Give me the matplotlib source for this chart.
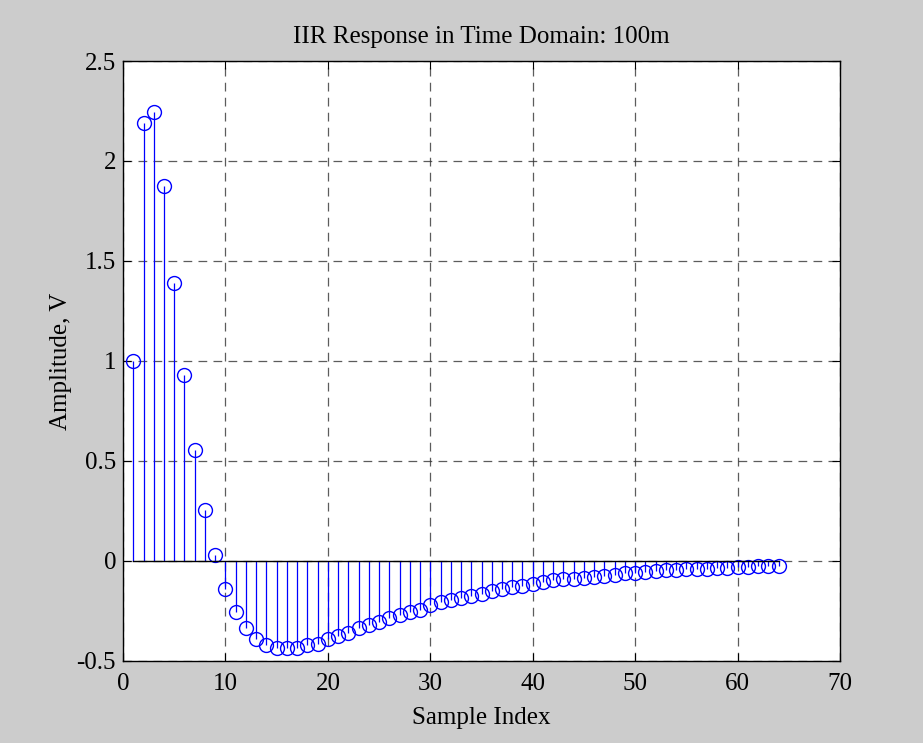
import numpy as np
import matplotlib
matplotlib.use('Agg')
import matplotlib.pyplot as plt

# Impulse response samples, index 1..64
sample_index = np.arange(1, 65)
amplitude = [
    1.00, 2.19, 2.245, 1.877, 1.39, 0.93, 0.553, 0.253, 0.03, -0.14,
    -0.253, -0.333, -0.39, -0.42, -0.437, -0.437, -0.437, -0.422, -0.413, -0.39,
    -0.373, -0.36, -0.335, -0.32, -0.307, -0.287, -0.27, -0.253, -0.243, -0.222,
    -0.205, -0.197, -0.183, -0.175, -0.163, -0.15, -0.14, -0.13, -0.123, -0.113,
    -0.107, -0.097, -0.09, -0.088, -0.083, -0.079, -0.075, -0.068, -0.06, -0.058,
    -0.053, -0.051, -0.047, -0.045, -0.041, -0.04, -0.038, -0.034, -0.033, -0.032,
    -0.031, -0.027, -0.026, -0.025,
]

plt.rcParams['font.family'] = ['Liberation Serif', 'DejaVu Serif']

fig = plt.figure(figsize=(9.23, 7.43), dpi=100, facecolor='#cccccc')
ax = fig.add_axes([0.1333, 0.1104, 0.7768, 0.8075])
ax.set_facecolor('white')

markers, stems, base = ax.stem(sample_index, amplitude, basefmt='k-')
plt.setp(stems, color='blue', linewidth=0.9)
plt.setp(markers, color='blue', marker='o', markerfacecolor='none',
         markersize=10, markeredgewidth=1.0)
plt.setp(base, color='black', linewidth=1.0)

ax.set_xlim(0, 70)
ax.set_ylim(-0.5, 2.5)
ax.set_xticks(np.arange(0, 71, 10))
ax.set_yticks(np.arange(-0.5, 2.51, 0.5))
ax.set_yticklabels(['-0.5', '0', '0.5', '1', '1.5', '2', '2.5'])

ax.grid(True, color='#333333', linestyle=(0, (7, 5)), linewidth=0.9, alpha=0.8)
ax.tick_params(direction='in', top=True, right=True, labelsize=18, length=6)
ax.tick_params(axis='x', pad=9)
ax.tick_params(axis='y', pad=5)
for spine in ax.spines.values():
    spine.set_linewidth(1.0)

ax.set_title('IIR Response in Time Domain: 100m', fontsize=18, pad=13)
ax.set_xlabel('Sample Index', fontsize=18, labelpad=8)
ax.set_ylabel('Amplitude, V', fontsize=18, labelpad=3)

fig.savefig('out.png', dpi=100, facecolor=fig.get_facecolor())
